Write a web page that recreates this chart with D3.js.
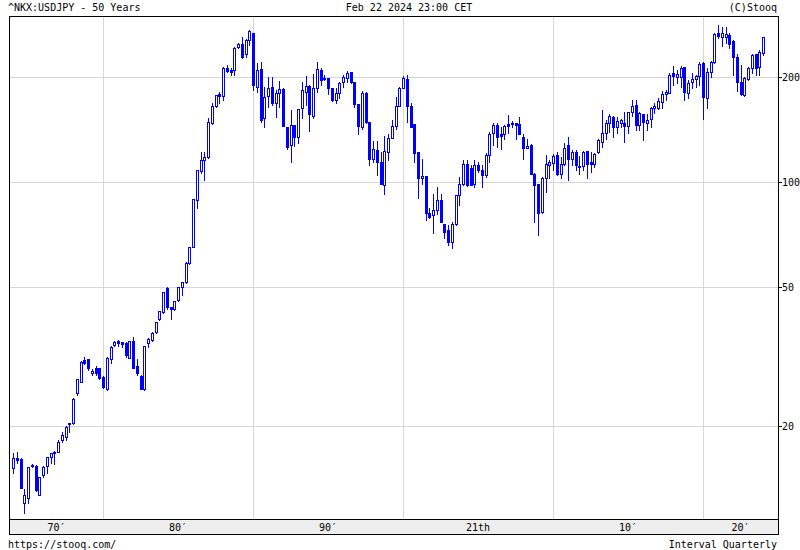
<!DOCTYPE html>
<html><head><meta charset="utf-8">
<script src="https://cdn.jsdelivr.net/npm/d3@7"></script>
<style>
html,body{margin:0;padding:0;background:#fff;}
text{font-family:"DejaVu Sans Mono",monospace;font-size:10px;fill:#000;}
</style></head>
<body><svg id="c" width="800" height="550"></svg>
<script>
// Quarterly candles, ^NKX:USDJPY, 1974Q1 .. 2024Q1
const startYear = 1974;
const open = [15.2,16.2,16.1,12.0,12.4,15.4,15.4,12.7,14.5,15.4,16.3,16.8,16.9,18.2,18.6,20.3,20.4,24.8,26.8,30.9,
31.1,28.4,29.3,29.3,27.6,25.5,31.1,34.1,35.0,34.8,34.6,31.3,35.0,29.7,27.9,25.5,34.6,35.2,37.1,40.5,
42.4,49.7,43.8,43.2,45.9,50.0,51.7,58.6,65.1,88.8,107.5,115.6,117.9,147.6,165.2,178.4,176.4,212.7,209.5,209.5,
244.3,248.2,232.4,255.3,266.9,187.6,210.8,152.9,176.8,186.9,169.2,179.6,184.8,143.5,127.7,145.7,134.9,162.7,181.5,188.8,
154.6,186.4,209.5,197.0,199.1,185.6,171.8,179.6,194.1,199.1,206.9,193.1,167.0,144.1,179.6,148.3,116.9,123.5,114.3,98.0,
121.7,134.0,145.0,165.5,186.4,197.3,165.5,146.4,121.7,102.9,104.2,81.8,80.4,83.1,88.8,76.1,72.8,67.4,76.1,91.8,
99.1,113.1,109.9,99.1,111.9,108.2,104.7,119.5,138.4,145.7,137.1,137.1,146.7,146.4,147.9,146.7,134.9,125.4,127.7,105.9,
99.1,82.2,102.5,111.9,113.6,119.5,105.9,112.6,127.7,116.9,122.2,111.1,111.1,122.7,114.3,113.1,122.2,130.5,138.4,147.4,
153.9,144.1,147.4,147.9,144.8,159.0,166.3,145.7,156.6,147.9,151.3,162.7,163.7,169.9,178.7,180.3,205.7,199.6,200.4,213.2,
179.6,194.1,197.0,201.3,218.9,173.8,206.9,220.8,266.9,260.9,259.9,264.0,254.1,228.7,194.1,177.6,197.0,211.8,232.8,214.1,
234.8];
const high = [16.7,16.8,16.2,13.2,15.3,15.6,15.5,14.3,15.4,16.3,16.7,17.0,18.2,19.2,20.0,20.4,24.0,27.2,30.7,31.5,
31.2,29.1,29.7,29.4,27.8,31.5,34.0,35.0,35.2,34.8,34.8,35.0,36.1,31.1,28.0,34.0,35.7,37.1,39.8,42.8,
48.6,50.0,43.8,45.8,50.2,51.8,59.0,65.3,89.6,108.5,121.9,121.9,152.6,168.5,178.0,181.5,214.1,216.4,211.8,244.3,
250.0,260.9,257.0,272.8,268.0,218.9,220.4,187.6,200.4,200.4,183.5,194.8,186.0,144.1,160.9,146.0,162.0,194.1,201.7,189.5,
203.6,220.4,211.8,202.7,199.5,186.4,185.6,194.1,202.7,208.1,207.5,193.5,167.5,182.4,181.5,148.8,131.1,131.1,122.2,135.8,
137.9,150.6,175.6,187.0,201.7,202.7,168.1,146.4,121.7,116.4,104.2,84.1,92.2,97.0,92.2,76.1,75.3,77.0,92.0,103.6,
115.6,115.6,111.9,115.6,114.3,111.9,120.9,139.6,147.9,147.9,144.1,145.7,155.6,150.0,148.0,153.3,137.9,133.4,128.5,106.0,
99.1,103.3,119.5,115.6,120.1,122.2,118.1,129.1,134.9,123.5,123.5,118.7,122.9,122.7,122.2,121.3,132.6,160.9,150.6,156.6,
154.5,153.3,151.6,159.0,159.2,171.8,171.8,159.0,157.3,156.4,164.4,168.1,173.8,182.8,183.5,205.0,215.3,210.3,215.3,214.1,
196.1,205.0,203.0,220.8,221.2,212.0,222.0,266.9,281.9,277.6,277.6,268.2,255.3,233.7,216.4,199.6,213.2,233.7,233.7,239.0,
260.9];
const low = [14.7,15.7,13.3,11.3,12.0,15.3,13.0,12.7,14.3,14.7,15.7,15.6,16.8,18.0,18.2,19.2,20.3,24.6,26.7,30.1,
28.9,28.0,28.0,27.2,25.7,25.3,30.4,33.9,33.9,33.6,31.5,31.3,29.3,28.0,25.6,25.4,33.6,35.0,37.0,40.3,
42.2,43.2,40.5,43.0,45.6,47.4,51.5,58.4,65.0,84.2,106.1,101.3,117.0,147.0,164.0,168.5,171.8,206.7,202.7,202.7,
242.7,226.3,228.7,247.0,183.5,180.8,148.6,144.1,164.4,166.3,153.9,164.4,144.5,124.3,113.9,127.1,129.1,152.3,166.3,140.0,
152.3,181.5,189.7,196.1,178.4,170.7,168.1,173.8,187.6,194.1,192.0,164.1,137.9,141.9,147.4,111.9,114.3,104.7,98.5,92.8,
115.6,134.0,142.5,165.0,185.6,148.9,143.5,114.3,89.8,99.1,77.8,78.7,71.3,81.3,76.9,69.0,66.0,64.6,75.5,85.9,
98.0,97.8,98.0,97.0,107.0,97.0,103.6,114.3,127.7,126.2,124.9,132.6,138.4,144.1,132.6,137.0,116.9,125.0,105.4,76.9,
70.5,81.6,93.8,102.5,108.2,104.7,102.5,111.9,101.3,111.9,108.7,105.9,108.2,103.1,107.0,110.6,121.3,126.2,132.6,139.3,
134.9,138.4,144.1,130.5,138.4,154.6,141.2,141.2,132.0,141.2,144.1,157.9,161.6,162.7,171.8,180.0,189.7,191.9,187.6,171.8,
173.8,185.6,188.0,190.0,151.6,162.7,200.0,218.9,258.3,245.5,250.9,241.7,202.7,182.8,177.6,176.4,196.1,205.0,202.7,202.7,
231.3];
const close = [16.2,16.0,13.3,12.7,15.3,15.5,13.1,14.3,15.3,16.3,16.7,16.9,18.0,18.9,19.9,20.4,23.9,27.2,30.5,30.3,
29.3,28.7,28.3,27.4,25.8,31.3,33.6,34.8,34.6,34.4,32.0,35.0,29.3,28.3,25.6,33.9,35.5,37.0,39.7,42.7,
48.4,43.8,43.2,45.6,50.0,51.7,58.6,65.1,89.4,108.2,115.6,117.9,148.6,165.2,177.7,176.4,212.7,208.1,206.9,241.7,
248.2,228.7,255.3,271.0,189.7,209.5,150.6,175.6,186.4,169.2,179.6,184.4,145.0,126.2,145.7,134.9,161.9,183.5,188.8,156.4,
186.4,210.8,196.1,199.1,186.4,171.8,179.6,191.9,200.4,205.0,193.1,167.0,145.0,179.6,148.3,116.9,124.3,113.9,98.5,122.7,
134.0,145.0,165.5,186.4,198.3,165.5,144.1,120.9,102.9,104.2,81.8,79.5,83.1,88.8,76.9,72.1,67.4,76.1,91.8,99.1,
112.4,98.0,98.0,111.9,108.2,104.7,119.5,137.9,145.7,134.9,135.5,144.8,144.8,147.9,145.7,137.1,125.4,127.4,105.9,98.0,
81.6,103.1,113.1,114.3,118.7,105.9,112.6,125.7,116.9,122.2,111.9,110.2,121.7,113.1,113.1,120.3,132.0,138.4,147.4,154.6,
143.5,149.6,150.6,144.8,159.0,165.2,145.7,157.9,148.9,150.6,162.7,165.2,170.7,178.7,181.5,202.7,201.3,204.0,211.8,181.5,
191.9,197.0,201.3,217.9,175.6,206.9,221.2,265.7,262.9,266.9,265.7,248.6,228.7,194.1,178.7,198.3,211.8,231.3,211.8,236.4,
259.9];
const yTicks = [20, 50, 100, 200];
const decadeLines = [1980, 1990, 2000, 2010, 2020];
const decadeLabels = [{from:1970,label:"70\u2032"},{from:1980,label:"80\u2032"},{from:1990,label:"90\u2032"},
  {from:2000,label:"21th"},{from:2010,label:"10\u2032"},{from:2020,label:"20\u2032"}];

const data = open.map((o,i)=>({t: startYear + i/4, o, h: high[i], l: low[i], c: close[i]}));

const L = 10, R = 778, T = 17, B = 519;
const svg = d3.select("#c");
svg.append("rect").attr("width",800).attr("height",550).attr("fill","#fff");

const x = d3.scaleLinear().domain([1973.8, 2025.0]).range([L, R]);
const y = d3.scaleLog().domain([10.83, 297.5]).range([B, T]);

// grid
const g = svg.append("g").attr("shape-rendering","crispEdges");
g.selectAll(".hg").data(yTicks).join("line")
  .attr("x1",L).attr("x2",R).attr("y1",d=>Math.round(y(d))+0.5).attr("y2",d=>Math.round(y(d))+0.5)
  .attr("stroke","#d6d6d6");
g.selectAll(".vg").data(decadeLines).join("line")
  .attr("y1",T).attr("y2",B).attr("x1",d=>Math.round(x(d))+0.5).attr("x2",d=>Math.round(x(d))+0.5)
  .attr("stroke","#d6d6d6");

// candles (pixel aligned)
const cg = svg.append("g").attr("shape-rendering","crispEdges");
const cx = d=>Math.round(x(d.t));
const bTop = d=>Math.round(y(Math.max(d.o,d.c)));
const bBot = d=>Math.round(y(Math.min(d.o,d.c)));
cg.selectAll(".w").data(data).join("rect")
  .attr("x",d=>cx(d)).attr("width",1)
  .attr("y",d=>Math.round(y(d.h))).attr("height",d=>Math.round(y(d.l))-Math.round(y(d.h))+1)
  .attr("fill","#0000ff");
cg.selectAll(".b").data(data).join("rect")
  .attr("x",d=>cx(d)-1).attr("width",3)
  .attr("y",bTop).attr("height",d=>Math.max(2,bBot(d)-bTop(d)+1))
  .attr("fill","#0000ff");
cg.selectAll(".hi").data(data.filter(d=>d.c>=d.o && bBot(d)-bTop(d)>=2)).join("rect")
  .attr("x",d=>cx(d)).attr("width",1)
  .attr("y",d=>bTop(d)+1).attr("height",d=>bBot(d)-bTop(d)-1)
  .attr("fill","#fff");

// frame
g.append("rect").attr("x",L-0.5).attr("y",T-0.5).attr("width",R-L+1).attr("height",B-T+1)
  .attr("fill","none").attr("stroke","#000");
// right ticks and labels
svg.append("g").selectAll("line").data(yTicks).join("line")
  .attr("shape-rendering","crispEdges")
  .attr("x1",R).attr("x2",R+4).attr("y1",d=>Math.round(y(d))+0.5).attr("y2",d=>Math.round(y(d))+0.5)
  .attr("stroke","#000");
svg.append("g").selectAll("text").data(yTicks).join("text")
  .attr("x",R+4).attr("y",d=>y(d)+3.5).text(d=>d);

// bottom band
svg.append("rect").attr("shape-rendering","crispEdges")
  .attr("x",L-0.5).attr("y",B+0.5).attr("width",R-L+1).attr("height",15)
  .attr("fill","#eeeeee").attr("stroke","#000");
svg.append("g").selectAll("text").data(decadeLabels).join("text")
  .attr("x",d=>x((Math.max(d.from,1973.8)+Math.min(d.from+10,2025.0))/2))
  .attr("y",B+12).attr("text-anchor","middle").text(d=>d.label);

// header/footer
svg.append("text").attr("x",8).attr("y",11).text("^NKX:USDJPY - 50 Years");
svg.append("text").attr("x",409).attr("y",11).attr("text-anchor","middle").text("Feb 22 2024 23:00 CET");
svg.append("text").attr("x",777).attr("y",11).attr("text-anchor","end").text("(C)Stooq");
svg.append("text").attr("x",8).attr("y",548).text("https://stooq.com/");
svg.append("text").attr("x",777).attr("y",548).attr("text-anchor","end").text("Interval Quarterly");
</script></body></html>
